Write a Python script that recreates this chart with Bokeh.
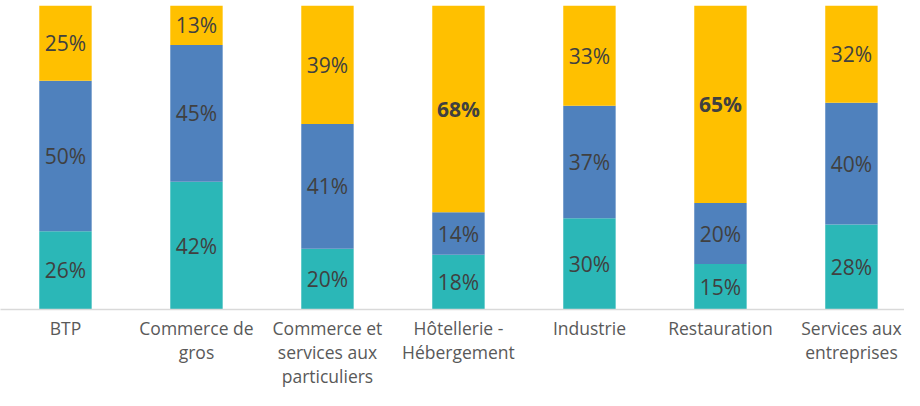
from bokeh.plotting import figure
from bokeh.models import ColumnDataSource, Range1d, FixedTicker
from bokeh.core.properties import value
from bokeh.embed import file_html
from bokeh.resources import INLINE

categories = ["BTP", "Commerce de\ngros", "Commerce et\nservices aux\nparticuliers",
              "Hôtellerie -\nHébergement", "Industrie", "Restauration",
              "Services aux\nentreprises"]
teal_vals = [26, 42, 20, 18, 30, 15, 28]
blue_vals = [50, 45, 41, 14, 37, 20, 40]
gold_vals = [25, 13, 39, 68, 33, 65, 32]

TEAL = "#2BB7B7"
BLUE = "#4F81BD"
GOLD = "#FFC000"

xs = list(range(len(categories)))
tot = [a + b + c for a, b, c in zip(teal_vals, blue_vals, gold_vals)]
t_f = [a / s for a, s in zip(teal_vals, tot)]
b_f = [b / s for b, s in zip(blue_vals, tot)]
g_f = [c / s for c, s in zip(gold_vals, tot)]

src = ColumnDataSource(dict(x=xs, teal=t_f, blue=b_f, gold=g_f))

p = figure(width=904, height=390, output_backend="svg", toolbar_location=None,
           x_range=Range1d(-0.496, 6.405), y_range=Range1d(0, 1),
           min_border_left=0, min_border_right=0, min_border_top=5, min_border_bottom=0)
p.outline_line_color = None
p.background_fill_color = "white"
p.border_fill_color = "white"
p.xgrid.visible = False
p.ygrid.visible = False
p.yaxis.visible = False

p.vbar_stack(["teal", "blue", "gold"], x="x", width=0.4, source=src,
             color=[TEAL, BLUE, GOLD], line_color=None)

# labels
lx, ly, lt, bx, by, bt = [], [], [], [], [], []
for i in xs:
    segs = [(t_f[i], teal_vals[i]), (b_f[i], blue_vals[i]), (g_f[i], gold_vals[i])]
    base = 0
    for frac, v in segs:
        mid = base + frac / 2
        if v > 60:
            bx.append(i); by.append(mid); bt.append(f"{v}%")
        else:
            lx.append(i); ly.append(mid); lt.append(f"{v}%")
        base += frac

font = value("Open Sans")
p.text(x=lx, y=ly, text=lt, text_align="center", text_baseline="middle",
       text_font=font, text_font_size="21px", text_color="#404040")
p.text(x=bx, y=by, text=bt, text_align="center", text_baseline="middle",
       text_font=font, text_font_size="21px", text_color="#404040", text_font_style="bold")

ax = p.xaxis[0]
ax.ticker = FixedTicker(ticks=xs)
ax.major_label_overrides = {i: c for i, c in zip(xs, categories)}
ax.axis_line_color = "#D9D9D9"
ax.axis_line_width = 1.5
ax.major_tick_line_color = None
ax.minor_tick_line_color = None
ax.major_tick_out = 0
ax.major_tick_in = 0
ax.major_label_standoff = 6
ax.major_label_text_font = "Open Sans"
ax.major_label_text_font_size = "17.5px"
ax.major_label_text_color = "#595959"
ax.major_label_text_line_height = 1.0

html = file_html(p, INLINE)
html = html.replace("</head>", "<style>html,body{overflow:hidden;}</style></head>", 1)
open("out.html", "w").write(html)
